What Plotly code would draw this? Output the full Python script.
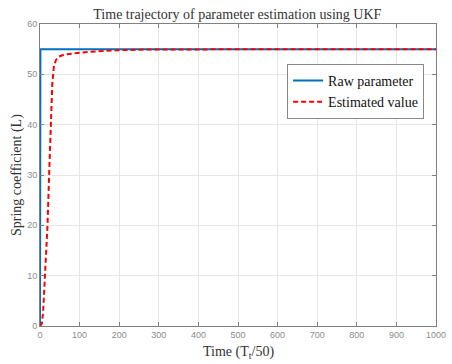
import plotly.graph_objects as go

# Data
raw_x = [0, 1, 1000]
raw_y = [0, 55, 55]

est_x = [0, 5, 8, 10, 13, 16, 19, 23, 27, 31, 35, 40, 45, 50, 60, 75, 100, 130, 160, 200, 250, 300, 1000]
est_y = [0, 0.5, 3, 6, 10, 15, 20, 30, 40, 48, 51.5, 52.8, 53.3, 53.6, 53.9, 54.1, 54.3, 54.5, 54.65, 54.8, 54.9, 54.95, 55]

x_ticks = [0, 100, 200, 300, 400, 500, 600, 700, 800, 900, 1000]
y_ticks = [0, 10, 20, 30, 40, 50, 60]

serif = "Liberation Serif, Times New Roman, serif"
sans = "Liberation Sans, Arial, sans-serif"

fig = go.Figure()
fig.add_trace(go.Scatter(x=raw_x, y=raw_y, mode="lines", name="Raw parameter",
                         line=dict(color="#0072BD", width=2)))
fig.add_trace(go.Scatter(x=est_x, y=est_y, mode="lines", name="Estimated value",
                         line=dict(color="#FF0000", width=2, dash="5px,3px")))

axis_common = dict(showgrid=True, gridcolor="#E6E6E6", gridwidth=1,
                   showline=True, linecolor="#808080", linewidth=1, mirror="ticks",
                   ticks="inside", ticklen=4, tickcolor="#808080", zeroline=False,
                   automargin=False,
                   tickfont=dict(family=sans, size=9, color="#8C8C8C"))

fig.update_layout(
    width=452, height=364,
    margin=dict(l=40, r=16, t=24, b=38),
    paper_bgcolor="white", plot_bgcolor="white",
    title=dict(text="Time trajectory of parameter estimation using UKF",
               font=dict(family=serif, size=14, color="#333333"),
               x=0.525, xanchor="center", y=0.962, yanchor="middle"),
    xaxis=dict(range=[0, 1000], tickvals=x_ticks, **axis_common),
    yaxis=dict(range=[0, 60], tickvals=y_ticks, **axis_common),
    legend=dict(x=0.624, y=0.868, xanchor="left", yanchor="top",
                bgcolor="white", bordercolor="#888888", borderwidth=1,
                font=dict(family=serif, size=14, color="#111111"),
                itemwidth=30, tracegroupgap=0),
    showlegend=True,
    annotations=[
        dict(text="Time (T<sub>t</sub>/50)", xref="paper", yref="paper", x=0.5, y=0,
             xanchor="center", yanchor="middle", yshift=-26, showarrow=False,
             font=dict(family=serif, size=14, color="#333333")),
        dict(text="Spring coefficient (L)", xref="paper", yref="paper", x=0, y=0.5,
             xanchor="center", yanchor="middle", xshift=-23, textangle=-90, showarrow=False,
             font=dict(family=serif, size=14, color="#333333")),
    ],
)

fig.write_html("out.html", config={"displayModeBar": False},
               post_script="document.body.style.margin='0';document.body.style.overflow='hidden';")
